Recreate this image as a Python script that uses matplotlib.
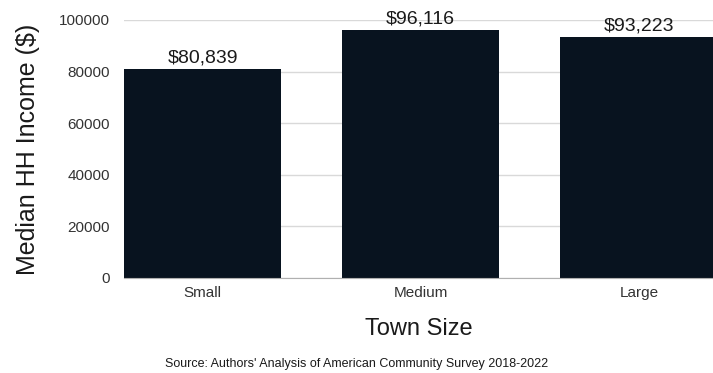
import matplotlib
matplotlib.use('Agg')
import matplotlib.pyplot as plt

# median household income by town size
town_sizes = ['Small', 'Medium', 'Large']
median_income = [80839, 96116, 93223]
income_labels = ['$80,839', '$96,116', '$93,223']
y_ticks = [0, 20000, 40000, 60000, 80000, 100000]

plt.rcParams['font.family'] = ['Liberation Sans', 'DejaVu Sans']

fig = plt.figure(figsize=(7.13, 3.73), dpi=100)
ax = fig.add_axes([0.174, 0.2547, 0.826, 0.6917])

x = range(len(town_sizes))
ax.bar(x, median_income, width=0.72, color='#08131f', zorder=2)

for xi, val, lab in zip(x, median_income, income_labels):
    ax.annotate(lab, (xi, val), xytext=(0, 2), textcoords='offset points',
                ha='center', va='bottom', fontsize=14, color='#1a1a1a',
                clip_on=False, zorder=3)

ax.set_xlim(-0.36, 2.34)
ax.set_ylim(0, 100000)
ax.set_yticks(y_ticks)
ax.set_yticklabels([str(t) for t in y_ticks])
ax.set_xticks(list(x))
ax.set_xticklabels(town_sizes)
ax.tick_params(axis='both', length=0, labelsize=11, labelcolor='#333333')
ax.tick_params(axis='y', pad=10)
ax.tick_params(axis='x', pad=6)

ax.grid(axis='y', color='#d9d9d9', linewidth=1, zorder=0)
for side in ['top', 'right', 'left']:
    ax.spines[side].set_visible(False)
ax.spines['bottom'].set_color('#b0b0b0')
ax.spines['bottom'].set_zorder(3)

ax.set_ylabel('Median HH Income ($)', fontsize=18, color='#1a1a1a', labelpad=14)
ax.set_xlabel('Town Size', fontsize=17, color='#1a1a1a', labelpad=13)

fig.text(0.5, 0.024, "Source: Authors' Analysis of American Community Survey 2018-2022",
         ha='center', va='center', fontsize=9, color='#1a1a1a')

fig.savefig('out.png', dpi=100)
